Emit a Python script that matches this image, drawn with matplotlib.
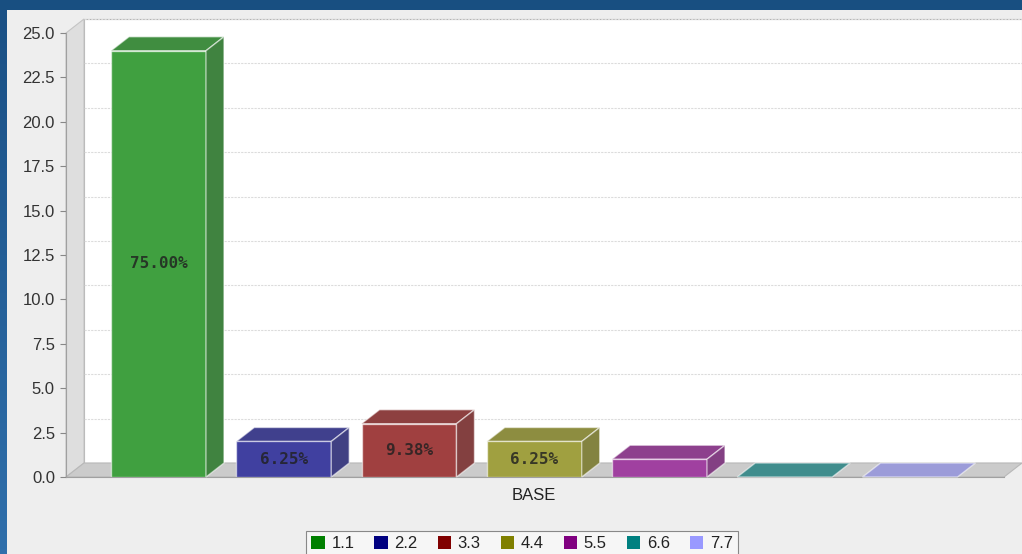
import numpy as np
import matplotlib.pyplot as plt
from matplotlib import font_manager
from matplotlib.colors import to_rgb, LinearSegmentedColormap
from matplotlib.patches import Polygon, Rectangle, Patch

# data
series = ['1.1', '2.2', '3.3', '4.4', '5.5', '6.6', '7.7']
values = [24, 2, 3, 2, 1, 0, 0]
category = 'BASE'
colors = ['#008000', '#000080', '#800000', '#808000', '#800080', '#008080', '#9999ff']
y_ticks = np.arange(0, 25.01, 2.5)


def pick_font(*names):
    have = {f.name for f in font_manager.fontManager.ttflist}
    for n in names:
        if n in have:
            return n
    return 'DejaVu Sans'


sans = pick_font('Liberation Sans Narrow', 'Liberation Sans', 'DejaVu Sans')
mono = pick_font('DejaVu Sans Mono', 'Liberation Mono')

W, H = 1022, 554
fig = plt.figure(figsize=(W / 100, H / 100), dpi=100, facecolor='#184f81')

# light left strip + grey chart panel
strip = fig.add_axes([0, 0, 7 / W, 1 - 10 / H])
strip.imshow(np.linspace(0, 1, 100).reshape(-1, 1), aspect='auto',
             cmap=LinearSegmentedColormap.from_list('s', ['#1a5085', '#2f6fab']), origin='upper')
strip.axis('off')
fig.patches.append(Rectangle((7 / W, 0), 1 - 7 / W, 1 - 10 / H, transform=fig.transFigure,
                             facecolor='#eeeeee', edgecolor='none', zorder=-5))

left, right, top, bottom = 66, 1004, 33, 477
ax = fig.add_axes([left / W, 1 - bottom / H, (right - left) / W, (bottom - top) / H])
ax.set_facecolor('none')

xs = np.arange(len(values))
xmin, xmax = -0.7385, 6.7505
ymax = 25
ax.set_xlim(xmin, xmax)
ax.set_ylim(0, ymax)

# depth of the 3D effect, in data units
dx = 18 / (right - left) * (xmax - xmin)
dy = 14 / (bottom - top) * ymax

# walls and floor
ax.add_patch(Polygon([(xmin + dx, dy), (xmax + dx, dy), (xmax + dx, ymax + dy), (xmin + dx, ymax + dy)],
                     facecolor='white', edgecolor='#b0b0b0', lw=0.8, clip_on=False, zorder=0))
ax.add_patch(Polygon([(xmin, 0), (xmin + dx, dy), (xmin + dx, ymax + dy), (xmin, ymax)],
                     facecolor='#dedede', edgecolor='#c4c4c4', lw=0.8, clip_on=False, zorder=1))
ax.add_patch(Polygon([(xmin, 0), (xmax, 0), (xmax + dx, dy), (xmin + dx, dy)],
                     facecolor='#cbcbcb', edgecolor='#b8b8b8', lw=0.8, clip_on=False, zorder=1))
for t in y_ticks[1:]:
    ax.plot([xmin + dx, xmax + dx], [t + dy, t + dy], color='#dcdcdc', lw=0.8,
            ls=(0, (2, 1)), clip_on=False, zorder=0.5)


def faded(rgb, k=0.75):
    # series paint at 75% opacity over a white background
    return tuple(np.array(rgb) * k + (1 - k))


# bars
width = 0.758
total = sum(values)
edge = (1, 1, 1, 0.55)
for x, v, c in zip(xs, values, colors):
    rgb = np.array(to_rgb(c))
    x0, x1 = x - width / 2, x + width / 2
    top_face = [(x0, v), (x1, v), (x1 + dx, v + dy), (x0 + dx, v + dy)]
    ax.add_patch(Polygon(top_face, facecolor=faded(rgb * 0.8), edgecolor=edge, lw=1,
                         clip_on=False, zorder=3))
    if v > 0:
        ax.bar(x, v, width, color=faded(rgb), edgecolor=edge, lw=1, zorder=3)
        side = [(x1, 0), (x1 + dx, dy), (x1 + dx, v + dy), (x1, v)]
        ax.add_patch(Polygon(side, facecolor=faded(rgb * 0.7), edgecolor=edge, lw=1,
                             clip_on=False, zorder=3))
        if v / ymax * (bottom - top) > 24:
            ax.text(x, v / 2, f'{v / total * 100:.2f}%', ha='center', va='center',
                    family=mono, weight='bold', fontsize=11.5, color=faded(rgb * 0.15, 0.85),
                    zorder=4)

# axes
for s in ['top', 'right']:
    ax.spines[s].set_visible(False)
ax.spines['left'].set_color('#a0a0a0')
ax.spines['bottom'].set_color('#a0a0a0')
ax.spines['left'].set_zorder(2)
ax.spines['bottom'].set_zorder(2)
ax.set_yticks(y_ticks)
ax.set_yticklabels([f'{t:.1f}' for t in y_ticks], family=sans, fontsize=12, color='#333333')
ax.tick_params(axis='y', length=4, width=0.8, color='#888888', pad=4)
ax.set_xticks([np.mean(xs)])
ax.set_xticklabels([category], family=sans, fontsize=12, color='#222222')
ax.tick_params(axis='x', length=0, pad=8)

# legend
handles = [Patch(facecolor=c, edgecolor='none') for c in colors]
leg = fig.legend(handles, series, loc='upper center', bbox_to_anchor=(522 / W, 1 - 531 / H),
                 borderaxespad=0, ncol=len(series), frameon=True, fancybox=False,
                 edgecolor='#888888', facecolor='#f6f6f6', framealpha=1,
                 handlelength=0.8, handleheight=0.8, handletextpad=0.4, columnspacing=1.2,
                 borderpad=0.3, prop={'family': sans, 'size': 12})
leg.get_frame().set_linewidth(0.8)
for t in leg.get_texts():
    t.set_color('#222222')

fig.savefig('out.png', dpi=100, facecolor=fig.get_facecolor())
